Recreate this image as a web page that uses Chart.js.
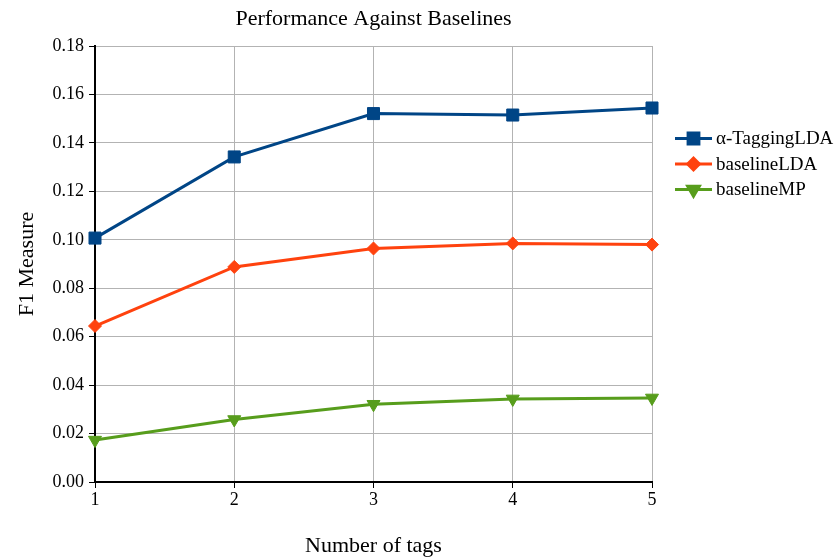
<!DOCTYPE html>
<html>
<head>
<meta charset="utf-8">
<script src="https://cdn.jsdelivr.net/npm/chart.js@4/dist/chart.umd.min.js"></script>
<style>
html,body{margin:0;padding:0;background:#fff;}
#wrap{width:839px;height:560px;position:relative;}
</style>
</head>
<body>
<div id="wrap"><canvas id="c" width="839" height="560"></canvas></div>
<script>
const categories = ['1', '2', '3', '4', '5'];
const taggingLDA = [0.1007, 0.1342, 0.1521, 0.1515, 0.1544];
const baselineLDA = [0.0644, 0.0888, 0.0964, 0.0985, 0.0980];
const baselineMP = [0.0173, 0.0258, 0.0321, 0.0343, 0.0347];
const yTicks = [0, 0.02, 0.04, 0.06, 0.08, 0.10, 0.12, 0.14, 0.16, 0.18];

const FONT = "'Liberation Serif', 'Times New Roman', serif";

const spacingPlugin = {
  id: 'spacing',
  beforeInit(chart) { try { chart.ctx.letterSpacing = '0.5px'; } catch (e) {} }
};

const legendPlugin = {
  id: 'lineLegend',
  afterDraw(chart) {
    const ctx = chart.ctx;
    const x0 = 675, x1 = 712, tx = 716;
    const ys = [138.5, 164, 189.5];
    chart.data.datasets.forEach((ds, i) => {
      const y = ys[i];
      ctx.save();
      ctx.strokeStyle = ds.borderColor;
      ctx.lineWidth = 3;
      ctx.beginPath(); ctx.moveTo(x0, y); ctx.lineTo(x1, y); ctx.stroke();
      ctx.fillStyle = ds.borderColor;
      ctx.strokeStyle = ds.borderColor;
      Chart.helpers.drawPoint(ctx, {
        pointStyle: ds.pointStyle, rotation: ds.pointRotation || 0,
        radius: ds.pointRadius * 0.9, borderWidth: 1
      }, (x0 + x1) / 2, y);
      ctx.fillStyle = '#000';
      ctx.font = '19px ' + FONT;
      ctx.textBaseline = 'middle';
      ctx.textAlign = 'left';
      ctx.fillText(ds.label, tx, y + 1);
      ctx.restore();
    });
  }
};

new Chart(document.getElementById('c'), {
  type: 'line',
  data: {
    labels: categories,
    datasets: [
      { label: 'α-TaggingLDA', data: taggingLDA, borderColor: '#004586', backgroundColor: '#004586',
        borderWidth: 3, pointStyle: 'rect', pointRadius: 8.5, pointBorderWidth: 1, clip: false },
      { label: 'baselineLDA', data: baselineLDA, borderColor: '#ff420e', backgroundColor: '#ff420e',
        borderWidth: 3, pointStyle: 'rectRot', pointRadius: 6.5, pointBorderWidth: 1, clip: false },
      { label: 'baselineMP', data: baselineMP, borderColor: '#579d1c', backgroundColor: '#579d1c',
        borderWidth: 3, pointStyle: 'triangle', pointRotation: 180, pointRadius: 7.5, pointBorderWidth: 1, clip: false }
    ]
  },
  options: {
    responsive: false,
    animation: false,
    layout: { padding: { left: 0, right: 187, top: 0, bottom: 0 } },
    plugins: {
      legend: { display: false },
      tooltip: { enabled: false },
      title: {
        display: true, text: 'Performance Against Baselines', fullSize: false,
        color: '#000', font: { family: FONT, size: 22, weight: 'normal', lineHeight: 1.2 },
        padding: { top: 6, bottom: 13.6 }
      }
    },
    scales: {
      x: {
        type: 'category',
        offset: false,
        grid: { color: '#b3b3b3', lineWidth: 1, tickColor: '#000', tickLength: 6, drawTicks: true },
        border: { color: '#000', width: 2 },
        ticks: { color: '#000', font: { family: FONT, size: 18 }, padding: 1, maxRotation: 0 },
        title: { display: true, text: 'Number of tags', color: '#000',
          font: { family: FONT, size: 22, lineHeight: 1.2 }, padding: { top: 0, bottom: 1 } },
        afterFit(s) { s.height = 78; }
      },
      y: {
        min: 0, max: 0.18,
        afterBuildTicks(s) { s.ticks = yTicks.map(v => ({ value: v })); },
        grid: { color: '#b3b3b3', lineWidth: 1, tickColor: '#000', tickLength: 6 },
        border: { color: '#000', width: 2 },
        ticks: { color: '#000', font: { family: FONT, size: 18 }, padding: 5,
          callback: v => v.toFixed(2) },
        title: { display: true, text: 'F1 Measure', color: '#000',
          font: { family: FONT, size: 22, lineHeight: 1.2 }, padding: { top: 14, bottom: 0 } },
        afterFit(s) { s.width = 95; }
      }
    }
  },
  plugins: [spacingPlugin, legendPlugin]
});
</script>
</body>
</html>
